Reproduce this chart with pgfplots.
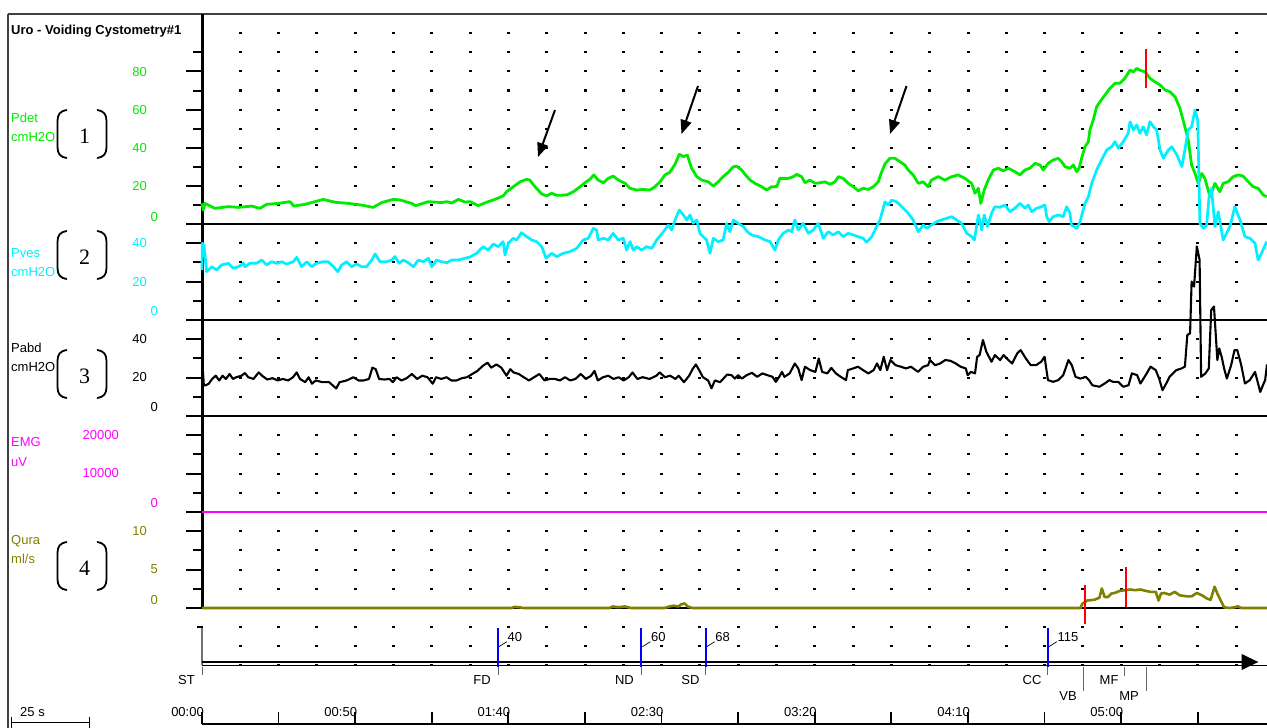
\documentclass[border=0pt]{standalone}
\usepackage{fontspec}
\setmainfont{Liberation Sans}
\newfontfamily\myserif{Liberation Serif}
\usepackage{pgfplots}
\usepackage{pgfplotstable}
\pgfplotsset{compat=1.18}
\usetikzlibrary{arrows.meta}

\definecolor{cGreen}{RGB}{0,235,0}
\definecolor{cCyan}{RGB}{0,240,255}
\definecolor{cMag}{RGB}{255,0,255}
\definecolor{cOlive}{RGB}{128,128,0}
\definecolor{cBlue}{RGB}{0,0,255}
\definecolor{cRed}{RGB}{255,0,0}

\pgfplotstableread{
t v
0 10.8
0.4 7.3
1.0 10.8
4.2 8.2
8.6 9.1
11.9 8.7
16.2 9.4
18.9 8.2
21.1 10.3
24.9 10.8
28.7 11.7
30.0 9.4
33.6 10.3
36.9 11.7
39.6 12.9
43.4 11.4
47.8 10.8
52.1 9.9
55.9 8.7
58.6 11.2
62.4 12.9
64.6 12.6
68.4 10.8
69.7 9.6
73.9 11.7
78.2 11.2
79.9 11.7
81.5 11.0
83.7 12.9
85.8 11.5
87.5 11.7
90.2 9.6
92.9 11.4
95.6 12.9
98.3 14.7
99.4 16.9
101.6 19.5
103.8 22.1
106.0 23.4
107.0 23.0
108.7 19.5
110.9 15.7
112.5 14.7
114.1 16.1
115.8 15.0
119.0 15.2
121.2 16.9
123.4 19.5
125.0 21.6
126.6 23.4
127.9 25.7
129.3 23.0
131.0 21.6
132.6 23.9
134.2 25.1
135.9 23.0
138.1 21.3
139.7 18.7
141.9 17.8
144.0 18.1
146.2 17.8
147.8 19.5
149.5 22.1
151.1 25.7
152.7 27.1
154.4 31.3
155.8 36.5
157.1 35.3
158.4 36.1
159.8 29.2
161.5 24.8
163.1 23.0
165.2 22.1
166.9 19.9
168.5 22.1
170.1 24.8
171.8 27.1
173.4 30.0
174.5 30.3
176.1 28.3
177.5 25.5
178.9 23.0
180.5 21.3
182.7 19.5
184.3 17.8
185.9 19.5
187.6 19.5
188.6 23.9
191.4 23.9
193.0 24.8
194.1 26.0
195.7 24.8
196.8 21.6
198.4 23.0
200.1 21.3
201.7 21.6
203.3 22.1
205.0 20.8
206.6 22.1
207.7 24.8
209.3 23.9
210.9 21.3
212.6 19.5
214.2 17.4
215.8 18.7
217.5 18.1
219.1 19.5
220.7 22.1
221.8 27.1
222.9 31.4
224.5 34.4
226.2 34.4
227.8 32.6
229.4 30.9
230.5 28.3
232.1 25.7
233.8 21.3
235.4 22.1
237.0 19.5
238.1 23.0
240.3 24.8
242.5 23.0
244.7 24.8
246.8 25.7
249.0 23.9
251.2 21.3
252.3 16.1
253.4 18.7
254.2 10.8
255.3 17.8
256.6 23.0
258.3 28.3
259.9 29.2
261.5 27.9
263.2 29.2
265.3 27.4
267.0 25.7
268.6 28.3
270.2 29.2
271.9 31.8
273.5 30.9
274.6 28.3
276.2 31.8
277.8 33.5
279.5 34.4
280.6 32.6
281.7 30.0
283.3 29.2
284.4 30.9
285.5 27.4
286.3 29.2
287.1 34.4
288.2 40.5
289.3 43.1
289.8 49.2
290.9 54.5
292.0 61.4
293.1 64.0
294.7 67.5
296.3 71.0
298.0 73.7
299.6 73.7
301.2 76.3
302.9 80.6
304.0 79.7
305.1 81.5
306.1 80.6
307.8 79.7
309.4 76.3
311.0 74.5
312.7 72.8
314.3 70.2
315.9 69.3
317.6 66.6
319.2 60.6
320.8 50.9
321.9 44.0
323.0 30.9
324.1 26.5
325.2 21.3
326.3 26.5
327.3 23.9
329.0 14.3
330.6 21.3
332.2 16.9
333.3 21.3
334.9 22.1
336.6 24.8
338.2 25.7
339.8 25.1
341.5 22.1
343.1 19.5
344.7 18.7
346.4 15.2
347.5 14.3
}\pdet

\pgfplotstableread{
t v
0 26.2
0.1 40.2
0.66 39.3
1.5 25.3
3.2 27.9
4.8 26.2
6.4 28.8
8.6 29.7
10.2 27.1
11.9 27.9
13.5 29.7
14.0 27.9
15.7 29.7
17.8 29.7
19.5 31.4
21.1 28.8
22.7 30.5
24.4 29.7
26.0 30.5
27.6 29.3
29.8 30.5
30.9 32.8
32.5 27.9
34.2 30.5
35.8 27.9
37.4 29.7
39.6 30.5
41.2 30.5
42.9 27.9
44.3 25.3
45.6 28.8
47.2 30.5
48.8 27.9
50.5 29.3
52.1 27.9
53.7 27.9
55.4 31.4
56.5 34.6
58.1 30.5
60.3 30.5
61.9 31.4
63.0 33.2
64.3 29.7
65.7 31.4
67.3 30.0
69.0 27.9
70.6 31.4
72.2 30.5
73.9 32.3
75.0 27.9
76.6 31.4
78.2 30.5
79.9 30.0
81.5 31.4
83.7 31.4
85.8 32.3
87.5 33.0
89.6 34.9
91.8 38.4
93.4 36.6
95.1 39.8
96.7 38.4
98.3 41.0
98.9 34.0
100.0 40.2
101.6 42.8
102.7 41.9
104.3 45.7
106.0 43.6
107.6 41.9
109.2 41.0
110.9 38.4
112.3 32.3
114.1 34.9
115.8 33.2
117.9 34.9
120.1 35.8
122.3 37.5
124.4 41.9
126.1 42.8
127.7 48.0
128.8 47.1
129.3 41.9
131.0 42.8
132.6 41.9
134.2 45.4
135.9 41.9
137.5 42.8
138.6 36.6
139.7 41.0
140.8 36.6
141.9 38.4
143.5 36.6
145.1 38.4
146.8 37.5
148.4 41.9
150.6 46.2
152.2 49.7
153.3 47.1
154.4 52.4
155.8 57.6
157.1 55.0
158.2 52.4
159.3 55.0
160.3 50.6
161.5 52.4
162.5 45.4
163.6 43.6
164.7 41.9
165.8 34.9
166.9 42.8
168.5 41.0
170.1 41.9
171.2 50.6
172.3 46.2
173.4 52.4
175.0 50.6
176.7 48.9
177.8 46.5
179.4 44.5
181.6 43.6
183.8 41.9
185.4 41.0
187.0 36.6
188.1 41.9
189.7 45.4
191.4 47.1
192.5 46.2
193.5 52.4
194.6 47.1
196.2 50.6
197.9 45.4
199.5 47.1
201.1 50.6
202.8 42.8
204.4 46.2
206.0 44.5
207.7 46.2
209.3 43.6
210.9 45.4
212.6 44.5
214.2 43.6
215.8 42.8
216.9 40.7
218.6 43.6
220.2 48.9
221.3 52.4
222.9 61.9
224.0 60.2
225.1 62.8
226.7 61.9
228.4 59.3
230.5 55.9
232.1 52.4
233.8 46.2
235.4 49.7
236.5 48.0
238.1 49.7
239.8 51.5
241.4 52.4
243.0 53.2
244.7 54.1
246.3 52.4
247.9 50.6
249.6 45.4
251.2 43.6
252.1 41.9
253.4 55.0
254.5 47.1
255.3 55.0
256.4 48.9
257.7 55.9
258.8 59.3
260.4 59.0
262.1 60.2
263.7 56.7
265.3 58.5
267.0 61.1
268.6 58.5
269.7 60.2
270.8 56.7
272.4 58.5
274.0 59.3
275.1 60.2
275.7 54.1
276.5 51.5
277.8 54.1
279.5 55.0
281.1 54.1
282.2 59.3
283.3 55.9
283.8 49.7
285.5 48.0
286.6 51.5
288.2 61.1
289.3 64.6
290.4 71.6
292.0 78.5
293.6 83.8
295.3 89.0
296.9 90.7
298.0 93.4
299.1 89.9
300.7 93.4
302.3 97.7
302.9 103.8
304.0 99.5
305.1 102.1
306.1 97.7
307.2 101.2
308.3 96.9
309.4 103.8
310.5 101.2
311.6 99.5
312.7 89.0
313.8 84.7
315.4 89.0
316.5 90.7
318.2 86.4
319.8 80.3
320.8 89.0
321.9 99.5
323.0 101.2
324.1 109.9
325.0 104.7
325.7 50.6
326.8 48.0
327.9 49.7
328.7 64.6
329.5 69.0
330.6 48.9
331.7 56.7
333.3 41.9
335.5 48.9
337.1 59.3
338.8 52.4
340.4 43.6
342.0 42.8
343.7 40.2
344.7 31.4
345.8 34.9
347.5 41.0
}\pves

\pgfplotstableread{
t v
0.0 31.2
0.6 16.0
1.1 16.0
2.2 16.9
3.3 19.4
4.5 21.1
5.6 18.6
6.7 21.1
7.8 19.4
9.0 22.0
10.1 19.4
11.2 20.3
12.9 21.1
14.0 22.5
15.1 20.3
16.8 19.4
18.5 22.8
19.6 21.1
21.3 19.1
23.0 19.8
24.7 18.6
26.4 19.4
28.1 18.6
29.7 20.3
30.9 22.8
32.0 19.4
33.7 17.7
34.8 20.3
35.9 16.9
37.1 18.6
39.3 17.7
41.5 17.7
43.8 14.4
44.9 17.7
47.2 18.6
49.4 20.3
51.1 18.6
52.8 18.6
54.5 19.4
55.6 25.3
56.7 24.5
57.8 19.4
59.5 19.1
61.2 19.4
62.3 17.7
63.5 20.3
65.1 18.6
66.8 19.8
68.5 22.0
70.2 19.4
71.9 21.1
73.6 20.3
75.3 16.9
76.4 20.3
78.1 19.4
79.8 20.3
81.4 18.6
83.1 18.6
84.8 19.8
86.5 20.3
88.2 22.0
89.9 23.6
91.6 26.2
93.2 27.9
94.4 25.3
96.1 27.0
97.7 25.3
99.4 21.1
100.6 24.5
101.7 22.8
103.4 22.0
105.0 20.3
106.7 18.6
108.4 20.3
110.1 22.0
111.8 18.6
113.5 19.4
115.2 19.4
116.8 18.6
118.5 20.3
120.2 18.6
121.9 19.4
123.6 22.0
125.3 19.4
127.0 21.1
128.1 23.6
129.2 18.6
130.9 20.3
132.6 21.1
134.3 19.4
136.0 20.3
137.6 18.6
139.3 20.3
140.5 22.8
142.1 19.4
143.8 20.3
146.1 19.4
148.3 21.1
149.4 22.8
151.1 20.3
152.8 21.1
154.5 19.4
155.6 21.1
157.3 17.7
159.0 21.1
160.1 24.5
161.2 27.0
162.4 23.6
163.5 20.3
165.2 18.6
166.3 14.5
167.4 18.6
169.1 17.7
171.4 21.7
172.8 21.4
173.9 19.6
175.0 21.4
176.2 19.6
177.8 21.4
179.5 22.6
181.2 20.5
182.9 22.3
184.5 21.4
186.2 20.5
187.3 17.9
188.4 20.5
189.3 23.1
190.1 20.5
191.8 22.3
193.5 27.5
194.6 24.9
195.7 18.8
196.8 25.8
198.5 24.0
200.2 23.1
201.3 30.1
202.4 23.1
204.1 22.3
205.4 25.2
206.9 22.3
208.5 20.5
210.2 18.8
210.8 24.0
212.5 24.9
214.1 25.8
215.8 24.0
217.5 22.3
219.2 24.0
220.3 27.5
221.4 24.0
222.5 31.0
223.6 24.0
224.7 29.3
226.4 26.6
228.1 25.8
229.8 24.9
231.4 25.8
233.7 23.1
235.4 25.8
237.0 26.6
237.6 29.3
239.3 26.6
240.9 27.5
242.6 29.3
244.3 28.9
246.0 27.5
247.6 25.8
249.3 24.9
249.9 21.4
251.0 23.1
252.3 22.3
253.0 31.0
253.8 31.9
254.9 39.8
256.0 33.6
257.7 28.4
258.8 31.9
260.5 29.3
261.6 31.9
262.7 30.1
264.4 27.5
266.1 32.8
267.2 34.5
268.9 30.1
270.5 26.6
272.2 26.6
273.9 28.4
275.0 31.0
276.1 18.8
277.8 17.9
279.5 18.8
281.1 21.4
282.8 29.3
283.9 26.6
285.1 20.5
286.7 19.6
288.4 20.5
289.5 18.8
290.6 16.1
292.9 15.3
294.6 17.0
296.2 18.8
297.3 17.9
299.0 17.9
300.7 15.3
302.4 16.1
303.5 22.3
305.2 21.4
306.3 17.0
308.0 21.4
309.6 25.8
311.3 24.0
312.4 19.6
313.5 13.5
314.7 17.0
315.8 20.5
316.9 22.3
318.0 24.0
319.7 24.9
320.8 25.8
321.6 42.4
322.5 43.3
323.0 70.4
323.8 67.8
324.7 88.8
325.6 81.8
326.1 20.5
327.5 22.3
328.6 24.9
329.4 55.5
330.3 57.3
331.4 29.3
332.0 35.4
332.8 31.0
333.6 24.9
334.5 19.6
335.9 26.6
337.0 34.5
337.9 34.5
339.2 26.6
340.4 17.0
342.0 18.8
343.7 23.1
345.4 12.6
346.5 17.0
347.0 18.8
347.6 27.0
}\pabd

\pgfplotstableread{
t v
0 0
101 0
102 0.15
103.5 0.1
105 0
133 0
134 0.2
136 0.1
138 0.2
140 0
151 0
152.5 0.2
154 0.3
155.5 0.2
156.5 0.5
157.5 0.6
158.5 0.2
160 0
286.7 0
287.3 0.54
289.0 0.98
291.2 1.07
292.9 1.34
293.7 2.55
294.6 1.43
295.7 1.43
296.8 1.88
297.9 1.96
299.6 2.23
301.3 2.32
302.9 2.41
304.6 2.32
306.3 2.41
308.0 2.23
309.6 2.10
311.3 2.10
312.2 0.98
313.0 1.88
314.1 1.96
315.8 1.74
317.5 2.10
319.1 1.65
321.4 1.52
323.0 1.52
324.7 1.96
326.4 1.65
328.1 1.21
329.2 1.07
330.5 2.77
331.4 1.88
332.5 0.98
333.6 0.09
335.3 0
337.0 0.09
338.1 0.22
339.2 0
347.6 0
}\qura

\pgfplotsset{
  panel/.style={scale only axis, width=1065pt, xmin=0, xmax=347.6,
    hide axis, clip=false, anchor=south west},
}
\tikzset{lbl/.style={font=\fontsize{13}{15}\selectfont, inner sep=0pt}}

\begin{document}
\begin{tikzpicture}

% ---------------- frame, grid, labels (1 unit = 1 px) ----------------
\begin{scope}[x=1pt,y=1pt]
\draw[line width=1.5pt, black!75] (8,-14) -- (1267,-14);
\draw[line width=1.2pt, black!75] (8,-14) -- (8,-728);

\node[lbl, anchor=base west, font=\fontsize{13}{15}\selectfont\bfseries] at (11,-34.3) {Uro - Voiding Cystometry\#1};

\foreach \kk in {1,...,27}{
  \foreach \rr in {33,52,71,90.5,110,129,148,167,186,205,224,243,262,282,301,320,339,358,378,397,416,435,454,474,493,512,531,550,570,589,608,627,646,665}{
    \fill ({202+38.3*\kk-1.5},{-\rr-1.2}) rectangle ++(3,2.4);
  }
}

% panel separators
\foreach \rr in {224,320,416,512,608}{
  \draw[line width=2.2pt] (202,-\rr) -- (1267,-\rr);
}

\draw[line width=3pt] (202,-14) -- (202,-609);
\draw[line width=2pt, black!55] (202,-626) -- (202,-665);
\foreach \rr in {71,110,148,186,224,243,282,320,339,378,416,435,474,512,531,570,608}{
  \draw[line width=2pt] (186,-\rr) -- (203,-\rr);
}
\foreach \rr in {52,90.5,129,167,205,262,301,358,397,454,493,550,589}{
  \draw[line width=2pt] (193,-\rr) -- (203,-\rr);
}
\draw[line width=1.5pt] (197,-627) -- (203,-627);

\node[lbl, anchor=base west, text=cGreen] at (11,-122.9) {Pdet};
\node[lbl, anchor=base west, text=cGreen] at (11,-141.9) {cmH2O};
\node[lbl, anchor=base west, text=cCyan] at (11,-257.3) {Pves};
\node[lbl, anchor=base west, text=cCyan] at (11,-276.3) {cmH2O};
\node[lbl, anchor=base west] at (11,-352.9) {Pabd};
\node[lbl, anchor=base west] at (11,-371.3) {cmH2O};
\node[lbl, anchor=base west, text=cMag] at (11,-446.9) {EMG};
\node[lbl, anchor=base west, text=cMag] at (11,-466.3) {uV};
\node[lbl, anchor=base west, text=cOlive] at (11,-544.6) {Qura};
\node[lbl, anchor=base west, text=cOlive] at (11,-563.6) {ml/s};

% channel number brackets
\foreach \cc/\nn in {134/1,255/2,374/3,566/4}{
  \draw[line width=1.8pt, line cap=round]
    (66.5,-\cc+24) .. controls (60.5,-\cc+23) and (57.5,-\cc+20) .. (57.5,-\cc+13)
    -- (57.5,-\cc-13) .. controls (57.5,-\cc-20) and (60.5,-\cc-23) .. (66.5,-\cc-24);
  \draw[line width=1.8pt, line cap=round]
    (97.5,-\cc+24) .. controls (103.5,-\cc+23) and (106.5,-\cc+20) .. (106.5,-\cc+13)
    -- (106.5,-\cc-13) .. controls (106.5,-\cc-20) and (103.5,-\cc-23) .. (97.5,-\cc-24);
  \node[inner sep=0pt, anchor=base, font=\myserif\fontsize{22}{24}\selectfont] at (84.5,-\cc-9.5) {\nn};
}

\foreach \xa/\ya/\ta/\ca in {147/72/80/cGreen,147/110/60/cGreen,147/148/40/cGreen,147/186/20/cGreen,158/217/0/cGreen,
  147/243/40/cCyan,147/282/20/cCyan,158/311/0/cCyan,
  147/339/40/black,147/377/20/black,158/407/0/black,
  119/435/20000/cMag,119/473/10000/cMag,158/503/0/cMag,
  147/531/10/cOlive,158/569/5/cOlive,158/600/0/cOlive}{
  \node[lbl, anchor=base east, text=\ca] at (\xa,{-\ya-4.6}) {\ta};
}

% event channel line and arrow
\draw[line width=2.3pt] (202,-662) -- (1242,-662);
\draw[line width=1.3pt] (202,-665.7) -- (1267,-665.7);
\fill (1241.7,-654) -- (1258.3,-662) -- (1241.7,-670) -- cycle;

\foreach \xa/\va in {497.9/40,641.4/60,705.7/68,1047.8/115}{
  \draw[line width=0.7pt] (\xa+1,-646.7) -- (\xa+9,-641.7);
  \node[lbl, anchor=base west] at (\xa+9.5,-641.3) {\va};
}
\foreach \xa in {202,497.9,641.4,705.7,1047.8}{
  \draw[line width=0.8pt, black!60] (\xa,-667) -- (\xa,-675);
}
\draw[line width=0.8pt, black!60] (1083.8,-667) -- (1083.8,-691);
\draw[line width=0.8pt, black!60] (1146,-667) -- (1146,-691);
\draw[line width=0.8pt, black!60] (1124.5,-667) -- (1124.5,-676);
\foreach \xa/\sa in {195/ST,491/FD,634/ND,699.6/SD,1041.6/CC,1118.7/MF}{
  \node[lbl, anchor=base east] at (\xa,-684.6) {\sa};
}
\node[lbl, anchor=base east] at (1077,-700.6) {VB};
\node[lbl, anchor=base east] at (1139,-700.6) {MP};

\foreach \xa/\sa in {204/00:00,357.2/00:50,510.4/01:40,663.6/02:30,816.8/03:20,970/04:10,1123.2/05:00}{
  \node[lbl, anchor=base east] at (\xa,-716.6) {\sa};
}

\node[lbl, anchor=base west] at (20,-716.6) {25 s};
\draw[line width=1pt] (11.5,-722.7) -- (89,-722.7);
\draw[line width=1pt] (11.5,-716.7) -- (11.5,-728);
\draw[line width=1pt] (89,-716.7) -- (89,-728);
\end{scope}

% ---------------- traces (pgfplots axes, positioned in pt) ----------------
\begin{axis}[panel, height=210pt, at={(202pt,-224pt)}, ymin=0, ymax=110]
\addplot[cGreen, line width=2.8pt, line join=round] table[x=t,y=v] {\pdet};
\addplot[cRed, line width=2pt] coordinates {(308.0,71.4) (308.0,91.5)};
\end{axis}
\begin{axis}[panel, height=96pt, at={(202pt,-320pt)}, ymin=0, ymax=50.26]
\addplot[cCyan, line width=2.7pt, line join=round] table[x=t,y=v] {\pves};
\end{axis}
\begin{axis}[panel, height=96pt, at={(202pt,-416pt)}, ymin=0, ymax=50.26]
\addplot[black, line width=2.1pt, line join=round] table[x=t,y=v] {\pabd};
\end{axis}
\begin{axis}[panel, height=96pt, at={(202pt,-512pt)}, ymin=0, ymax=25000]
\addplot[cMag, line width=2.6pt] coordinates {(0,0) (347.6,0)};
\end{axis}
\begin{axis}[panel, height=96pt, at={(202pt,-608pt)}, ymin=0, ymax=12.5]
\addplot[cOlive, line width=2.6pt, line join=round] table[x=t,y=v] {\qura};
\addplot[cRed, line width=2pt] coordinates {(288.2,-2.1) (288.2,3.0)};
\addplot[cRed, line width=2pt] coordinates {(301.5,0.17) (301.5,5.35)};
\end{axis}
\begin{axis}[panel, height=39pt, at={(202pt,-667pt)}, ymin=0, ymax=1]
\addplot[cBlue, line width=2pt, ycomb] coordinates {(96.6,1) (143.4,1) (164.4,1) (276.0,1)};
\end{axis}
\begin{axis}[scale only axis, width=1065pt, height=12pt, at={(202pt,-724pt)}, anchor=south west,
  xmin=0, xmax=347.6, ymin=0, ymax=1, axis y line=none, axis x line*=bottom,
  axis line style={line width=2.2pt,-}, xtick={0,25,...,325}, xticklabels={},
  tick align=inside, major tick length=12pt, major tick style={line width=1.8pt, black}]
\addplot[draw=none] coordinates {(0,0)};
\end{axis}

% annotation arrows
\begin{scope}[x=1pt,y=1pt]
\draw[line width=2pt, -{Triangle[length=14pt,width=11pt]}] (555,-110) -- (538,-157);
\draw[line width=2pt, -{Triangle[length=14pt,width=11pt]}] (698,-86) -- (681.5,-134);
\draw[line width=2pt, -{Triangle[length=14pt,width=11pt]}] (906.5,-86) -- (890,-134);
\end{scope}

\pgfresetboundingbox
\path[use as bounding box] (0pt,0pt) rectangle (1267pt,-728pt);
\end{tikzpicture}
\end{document}
